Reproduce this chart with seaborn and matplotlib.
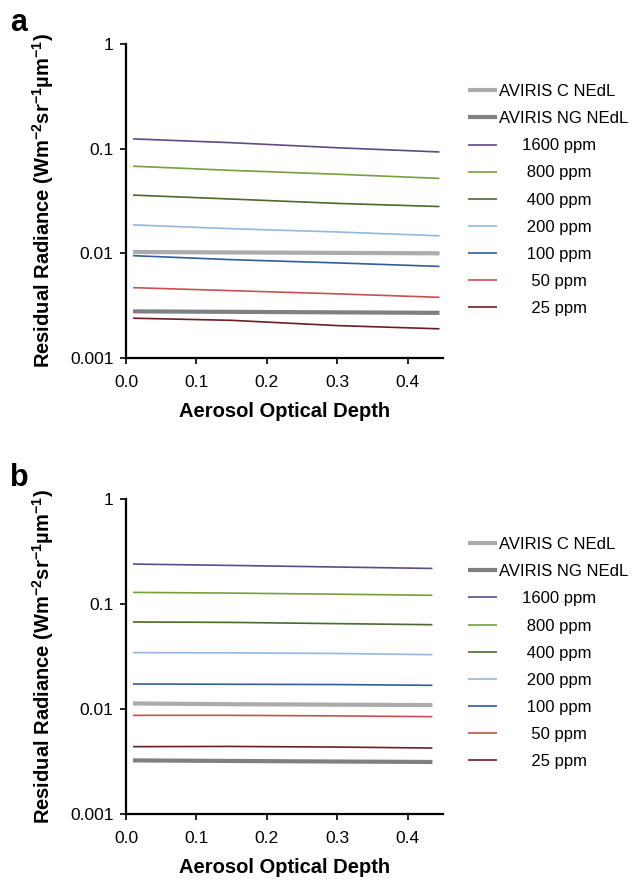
import numpy as np
import pandas as pd
import seaborn as sns
import matplotlib.pyplot as plt
from matplotlib.ticker import FixedLocator, FixedFormatter, NullLocator

# aerosol optical depth sample points
aod_a = [0.01, 0.15, 0.30, 0.445]
aod_b = [0.01, 0.15, 0.30, 0.435]

series_names = ['AVIRIS C NEdL', 'AVIRIS NG NEdL', '1600 ppm', '800 ppm', '400 ppm',
                '200 ppm', '100 ppm', '50 ppm', '25 ppm']
legend_labels = ['AVIRIS C NEdL', 'AVIRIS NG NEdL', '     1600 ppm', '      800 ppm',
                 '      400 ppm', '      200 ppm', '      100 ppm', '       50 ppm',
                 '       25 ppm']

# panel a
a_nedl_c = [0.0103, 0.0102, 0.0101, 0.0100]
a_nedl_ng = [0.00279, 0.00276, 0.00273, 0.00270]
a_1600 = [0.124, 0.114, 0.102, 0.093]
a_800 = [0.068, 0.062, 0.057, 0.052]
a_400 = [0.036, 0.033, 0.030, 0.028]
a_200 = [0.0187, 0.0172, 0.0160, 0.0147]
a_100 = [0.0095, 0.0087, 0.0081, 0.0075]
a_50 = [0.0047, 0.0044, 0.0041, 0.0038]
a_25 = [0.0024, 0.00229, 0.00204, 0.0019]

# panel b
b_nedl_c = [0.0113, 0.0111, 0.0110, 0.0109]
b_nedl_ng = [0.00324, 0.00320, 0.00316, 0.00313]
b_1600 = [0.240, 0.233, 0.225, 0.218]
b_800 = [0.129, 0.127, 0.124, 0.121]
b_400 = [0.0674, 0.0668, 0.065, 0.0635]
b_200 = [0.0344, 0.0343, 0.0338, 0.0329]
b_100 = [0.0173, 0.0172, 0.0171, 0.0168]
b_50 = [0.0087, 0.0087, 0.0086, 0.00845]
b_25 = [0.00438, 0.00440, 0.00434, 0.00425]

colors = ['#ababab', '#808080', '#5e4a86', '#77a03a', '#4b6a2b',
          '#94b7e0', '#2f5e9a', '#c9504f', '#6b1e22']
widths = [3.0, 3.0, 1.2, 1.2, 1.2, 1.2, 1.2, 1.2, 1.2]

sns.set_style('ticks')
plt.rcParams['font.family'] = ['Liberation Sans', 'DejaVu Sans']
plt.rcParams['text.color'] = 'black'
plt.rcParams['axes.labelcolor'] = 'black'

fig = plt.figure(figsize=(6.35, 8.84), dpi=100)
W, H = 635, 884


def panel(top, bottom, aod, values, letter, leg_top):
    ax = fig.add_axes([126 / W, 1 - bottom / H, 317 / W, (bottom - top) / H])
    for name, vals, c, lw in zip(series_names, values, colors, widths):
        df = pd.DataFrame({'aod': aod, 'rad': vals})
        sns.lineplot(data=df, x='aod', y='rad', ax=ax, color=c, lw=lw,
                     label=name, solid_capstyle='butt')
    ax.set_yscale('log')
    ax.set_ylim(0.001, 1)
    ax.set_xlim(0, 0.45)
    ax.yaxis.set_major_locator(FixedLocator([0.001, 0.01, 0.1, 1]))
    ax.yaxis.set_major_formatter(FixedFormatter(['0.001', '0.01', '0.1', '1']))
    ax.yaxis.set_minor_locator(NullLocator())
    ax.set_xticks([0.0, 0.1, 0.2, 0.3, 0.4])
    ax.set_xticklabels(['0.0', '0.1', '0.2', '0.3', '0.4'])
    sns.despine(ax=ax)
    for s in ['left', 'bottom']:
        ax.spines[s].set_linewidth(1.6)
        ax.spines[s].set_color('black')
    ax.tick_params(axis='both', labelsize=12.5, length=4.5, width=1.2, color='black',
                   labelcolor='black')
    ax.tick_params(axis='x', pad=7.5)
    ax.tick_params(axis='y', pad=4.5)
    ax.set_xlabel('Aerosol Optical Depth', fontsize=14.5, fontweight='bold')
    ax.set_ylabel('Residual Radiance (Wm$^{\\mathregular{-2}}$sr$^{\\mathregular{-1}}$'
                  '\u00b5m$^{\\mathregular{-1}}$)', fontsize=14.5, fontweight='bold')
    ax.xaxis.set_label_coords(0.5, -44 / (bottom - top))
    ax.yaxis.set_label_coords(-70 / 317, 0.5)
    handles, _ = ax.get_legend_handles_labels()
    ax.get_legend().remove()
    fig.legend(handles, legend_labels, loc='upper left',
               bbox_to_anchor=(468 / W, 1 - leg_top / H), frameon=False,
               fontsize=12, handlelength=1.75, handletextpad=0.1,
               labelspacing=0.73, borderpad=0, borderaxespad=0)
    fig.text(10 / W, 1 - (top - 36) / H, letter,
             fontsize=22, fontweight='bold', va='top', ha='left')
    return ax


ax_a = panel(44, 358, aod_a,
             [a_nedl_c, a_nedl_ng, a_1600, a_800, a_400, a_200, a_100, a_50, a_25],
             'a', 84)
ax_b = panel(499, 814, aod_b,
             [b_nedl_c, b_nedl_ng, b_1600, b_800, b_400, b_200, b_100, b_50, b_25],
             'b', 537)

fig.savefig('out.png', dpi=100)
